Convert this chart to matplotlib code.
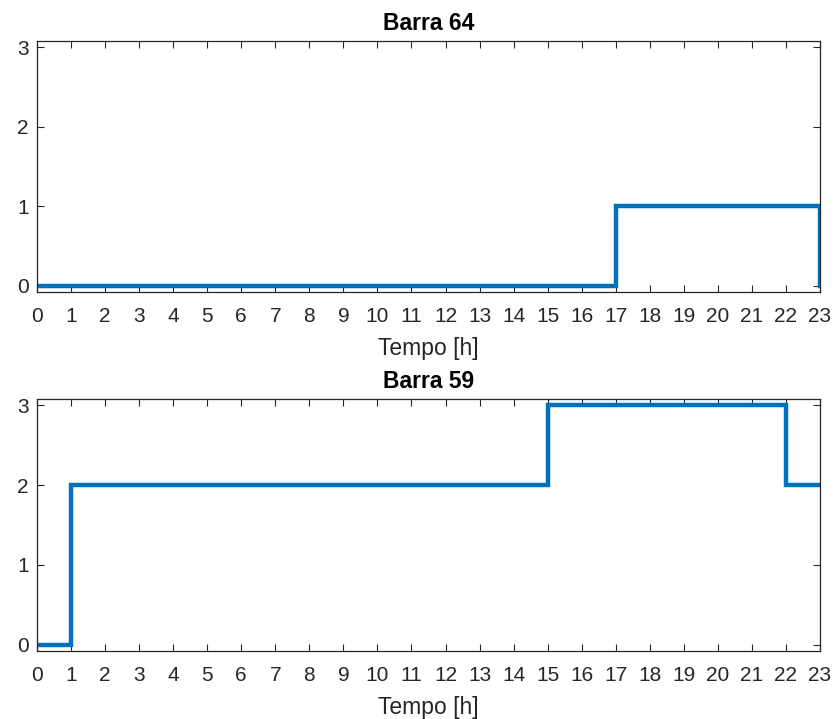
import numpy as np
import matplotlib
matplotlib.use('Agg')
import matplotlib.pyplot as plt

plt.rcParams['font.family'] = ['Liberation Sans', 'DejaVu Sans']

# dados por hora
horas = list(range(24))
barra64 = [0] * 17 + [1] * 6 + [0]
barra59 = [0] + [2] * 14 + [3] * 7 + [2] * 2
titulos = ['Barra 64', 'Barra 59']
series = [barra64, barra59]

AZUL = '#0072BD'
CINZA = '#262626'

fig = plt.figure(figsize=(8.35, 7.19), dpi=100)
posicoes = [[0.0443, 0.5939, 0.9377, 0.349], [0.0443, 0.0946, 0.9377, 0.3505]]

for pos, tit, vals in zip(posicoes, titulos, series):
    ax = fig.add_axes(pos)
    ax.step(horas, vals, where='post', color=AZUL, lw=3.2, solid_joinstyle='miter')
    ax.set_xlim(0, 23)
    ax.set_ylim(-0.08, 3.08)
    ax.set_xticks(horas)
    ax.set_yticks([0, 1, 2, 3])
    ax.tick_params(direction='in', top=True, right=True, length=5, width=0.8,
                   color=CINZA, labelcolor=CINZA, labelsize=15)
    ax.tick_params(axis='x', pad=11)
    ax.tick_params(axis='y', pad=6)
    for s in ax.spines.values():
        s.set_color(CINZA)
        s.set_linewidth(0.9)
    ax.set_title(tit, fontsize=16.5, fontweight='bold', color='black', pad=8)
    ax.set_xlabel('Tempo [h]', fontsize=16.5, color=CINZA, labelpad=8)

fig.savefig('out.png', dpi=100)
